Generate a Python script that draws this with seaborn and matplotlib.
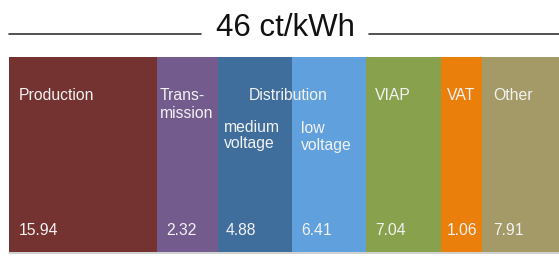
import pandas as pd
import matplotlib.pyplot as plt
import seaborn as sns

# segments of the 46 ct/kWh price
segments = ['Production', 'Transmission', 'Distribution medium', 'Distribution low',
            'VIAP', 'VAT', 'Other']
values = [15.94, 2.32, 4.88, 6.41, 7.04, 1.06, 7.91]
# drawn width of each block (the picture is not to scale)
block_widths = [148, 61, 74, 74, 75, 41, 77]
colors = ['#743230', '#735B8D', '#3F6D9C', '#60A0DD', '#88A14C', '#EB7F0C', '#A39A67']
title = '46 ct/kWh'

sns.set_theme(style='white')
plt.rcParams['font.family'] = ['Liberation Sans', 'DejaVu Sans']

fig = plt.figure(figsize=(5.59, 2.57), dpi=100)

# stacked bar: draw cumulative widths from the longest to the shortest
df = pd.DataFrame({'segment': segments, 'width': block_widths})
df['cum'] = df['width'].cumsum()
df['row'] = 'price'
ax = fig.add_axes([9 / 559, 5 / 257, 550 / 559, 195 / 257])
sns.barplot(data=df, x='cum', y='row', hue='segment', hue_order=segments[::-1],
            palette=dict(zip(segments, colors)), dodge=False, orient='h',
            width=1, saturation=1, errorbar=None, legend=False, linewidth=0, ax=ax)
ax.set_xlim(0, 550)
ax.set_ylim(0.5, -0.5)
ax.axis('off')

# overlay in pixel coordinates for the texts
ov = fig.add_axes([0, 0, 1, 1])
ov.set_xlim(0, 559)
ov.set_ylim(257, 0)
ov.axis('off')
ov.patch.set_alpha(0)

ov.text(285, 36, title, ha='center', va='baseline', fontsize=22.5, color='#111111')
ov.plot([9, 201], [34, 34], color='#333333', lw=1.2)
ov.plot([369, 559], [34, 34], color='#333333', lw=1.2)
ov.plot([9, 559], [253, 253], color='#C8C8C8', lw=1.2)

txt = dict(color='#F2F2F2', fontsize=11.3, va='baseline')
ov.text(19, 100, 'Production', **txt)
ov.text(160, 100, 'Trans-', **txt)
ov.text(160, 118, 'mission', **txt)
ov.text(288, 100, 'Distribution', ha='center', **txt)
ov.text(224, 132, 'medium', **txt)
ov.text(224, 148, 'voltage', **txt)
ov.text(301, 133, 'low', **txt)
ov.text(301, 150, 'voltage', **txt)
ov.text(375, 100, 'VIAP', **txt)
ov.text(447, 100, 'VAT', **txt)
ov.text(493, 100, 'Other', **txt)

value_x = [19, 166, 226, 301, 375, 447, 493]
for xv, v in zip(value_x, values):
    ov.text(xv, 235, f'{v:.2f}', **txt)

fig.savefig('out.png', dpi=100)
